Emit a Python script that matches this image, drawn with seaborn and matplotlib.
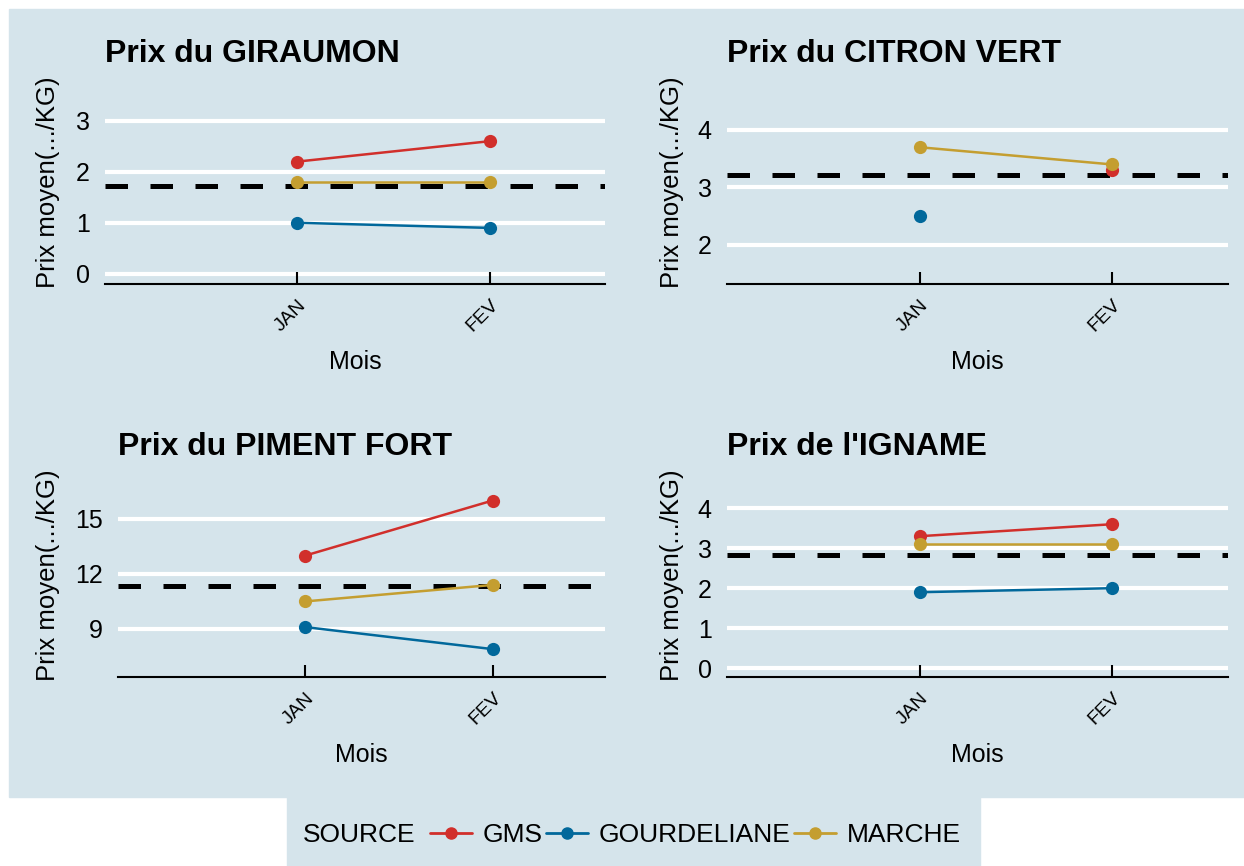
import matplotlib
matplotlib.use('Agg')
import matplotlib.pyplot as plt
from matplotlib.patches import Rectangle
from matplotlib.lines import Line2D
import seaborn as sns
import numpy as np
import pandas as pd

# data
months = ['JAN', 'FEV']
sources = ['GMS', 'GOURDELIANE', 'MARCHE']

giraumon_gms = [2.2, 2.6]
giraumon_gourdeliane = [1.0, 0.9]
giraumon_marche = [1.8, 1.8]

citron_gms = [np.nan, 3.3]
citron_gourdeliane = [2.5, np.nan]
citron_marche = [3.7, 3.4]

piment_gms = [13.0, 16.0]
piment_gourdeliane = [9.1, 7.9]
piment_marche = [10.5, 11.4]

igname_gms = [3.3, 3.6]
igname_gourdeliane = [1.9, 2.0]
igname_marche = [3.1, 3.1]

titles = ["Prix du GIRAUMON", "Prix du CITRON VERT",
          "Prix du PIMENT FORT", "Prix de l'IGNAME"]
y_ticks = [[0, 1, 2, 3], [2, 3, 4], [9, 12, 15], [0, 1, 2, 3, 4]]
y_limits = [(-0.2, 3.8), (1.32, 4.87), (6.38, 17.5), (-0.22, 4.88)]

bg = '#d5e4eb'
palette = {'GMS': '#d12f2b', 'GOURDELIANE': '#01689b', 'MARCHE': '#c49e30'}


def build(gms, gourd, marche):
    rows = []
    for i, m in enumerate(months):
        for s, vals in zip(sources, [gms, gourd, marche]):
            rows.append((m, s, vals[i]))
    df = pd.DataFrame(rows, columns=['Mois', 'SOURCE', 'Prix']).dropna()
    df['Mois'] = pd.Categorical(df['Mois'], categories=months)
    return df


def main():
    frames = [build(giraumon_gms, giraumon_gourdeliane, giraumon_marche),
              build(citron_gms, citron_gourdeliane, citron_marche),
              build(piment_gms, piment_gourdeliane, piment_marche),
              build(igname_gms, igname_gourdeliane, igname_marche)]

    sns.set_style("white")
    plt.rcParams['font.family'] = ['Liberation Sans', 'DejaVu Sans']
    plt.rcParams['text.color'] = 'black'
    plt.rcParams['axes.labelcolor'] = 'black'

    W, H = 1244, 866
    fig = plt.figure(figsize=(W / 100, H / 100), dpi=100)
    fig.patch.set_facecolor('white')
    fig.patches.append(Rectangle((9 / W, (H - 797) / H), (W - 9) / W, (797 - 9) / H,
                                 transform=fig.transFigure, color=bg, zorder=-1))
    fig.patches.append(Rectangle((287 / W, 0), (980 - 287) / W, (H - 797) / H,
                                 transform=fig.transFigure, color=bg, zorder=-1))

    # panel boxes in pixels: left, right, top, bottom
    boxes = [(105, 605, 80, 284), (727, 1228, 80, 284),
             (118, 605, 473, 677), (727, 1228, 473, 677)]
    ylab_x = [48, 672, 48, 672]

    for k, df in enumerate(frames):
        l, r, t, b = boxes[k]
        ax = fig.add_axes([l / W, (H - b) / H, (r - l) / W, (b - t) / H])
        ax.set_facecolor(bg)

        ax.axhline(df['Prix'].mean(), color='black', lw=3.6, dashes=(4.5, 4.5), zorder=1.5)
        sns.lineplot(data=df, x='Mois', y='Prix', hue='SOURCE', hue_order=sources,
                     palette=palette, marker='o', markersize=9.5, markeredgewidth=0,
                     linewidth=1.8, errorbar=None, legend=False, ax=ax, zorder=3)

        ax.set_xlim(-1.0, 1.6)
        ax.set_ylim(*y_limits[k])
        ax.set_yticks(y_ticks[k])
        ax.set_xticks([0, 1])
        ax.set_xticklabels(months)

        for side in ['top', 'right', 'left']:
            ax.spines[side].set_visible(False)
        ax.spines['bottom'].set_color('black')
        ax.spines['bottom'].set_linewidth(1.5)

        ax.grid(axis='y', color='white', lw=3)
        ax.grid(axis='x', visible=False)
        ax.set_axisbelow(True)
        ax.xaxis.set_zorder(0.7)

        ax.tick_params(axis='y', left=False, length=0, labelsize=18, pad=11, labelcolor='black')
        ax.tick_params(axis='x', bottom=True, direction='in', length=9, width=1.5, color='black',
                       labelsize=14, pad=9, labelcolor='black')
        for lab in ax.get_xticklabels():
            lab.set_rotation(45)
            lab.set_ha('right')
            lab.set_va('top')
            lab.set_rotation_mode('anchor')

        ax.set_title(titles[k], loc='left', fontsize=23, fontweight='bold', pad=13)
        ax.set_xlabel('Mois', fontsize=18)
        ax.set_ylabel('Prix moyen(.../KG)', fontsize=18.5)
        ax.xaxis.label.set_va('center')
        ax.yaxis.label.set_va('center')
        ax.xaxis.set_label_coords(0.5, -(362 - 284) / (b - t))
        ax.yaxis.set_label_coords((ylab_x[k] - l) / (r - l), 0.5)

    handles = [Line2D([], [], color=palette[s], marker='o', lw=2, markersize=8) for s in sources]
    fig.text(303 / W, 1 - 835 / H, 'SOURCE', fontsize=19, ha='left', va='center')
    fig.legend(handles, sources, loc='center left', bbox_to_anchor=(430 / W, 1 - 835 / H),
               ncol=3, frameon=False, handlelength=1.6, handletextpad=0.4,
               columnspacing=0.12, fontsize=19, borderpad=0, borderaxespad=0)

    fig.savefig('out.png', dpi=100, facecolor='white')


if __name__ == '__main__':
    main()
